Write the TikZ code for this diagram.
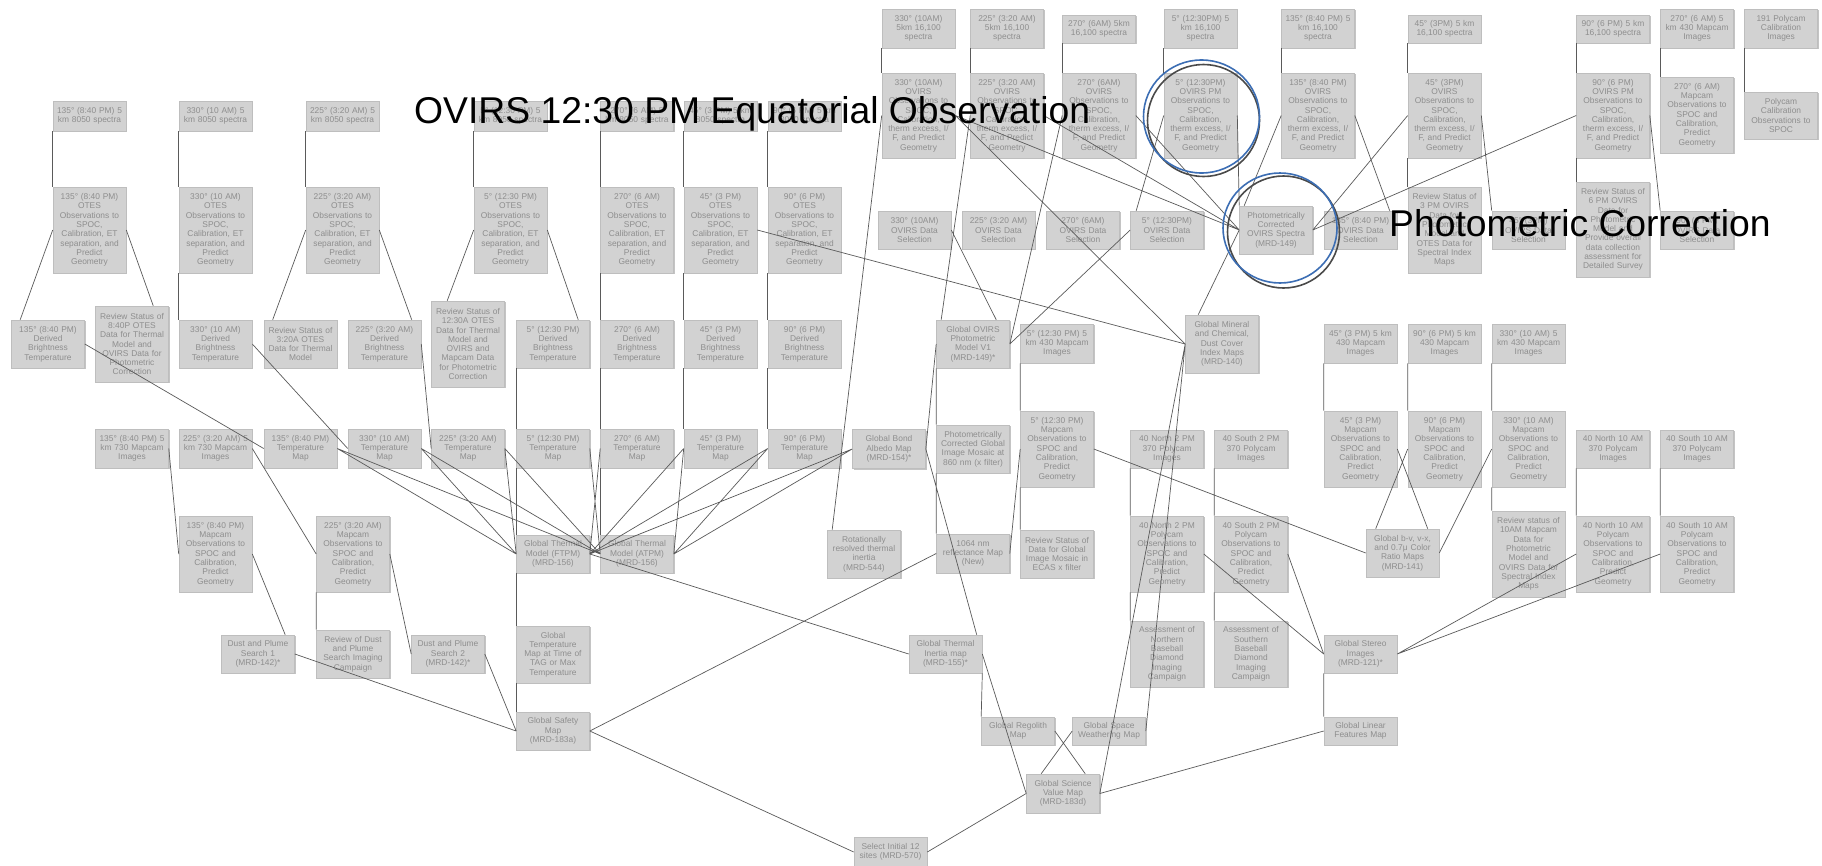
\documentclass[tikz,border=0pt]{standalone}
\usepackage{fontspec}
\usetikzlibrary{shadows}
\newfontfamily\boxfam{Liberation Sans}
\newfontfamily\headfam{Liberation Sans}
\definecolor{boxfill}{HTML}{D2D2D2}
\definecolor{boxedge}{HTML}{BEBEBE}
\definecolor{boxtext}{HTML}{8E8E8E}
\definecolor{shadowc}{HTML}{C4C4C4}
\definecolor{linkc}{HTML}{5A5A5A}
\definecolor{ringblue}{HTML}{3C6EB4}
\definecolor{ringgray}{HTML}{4A4A4A}
\tikzset{
  box/.style={draw=boxedge, fill=boxfill, text=boxtext, line width=0.6pt,
    font=\boxfam\fontsize{8.4}{9.3}\selectfont, align=center,
    text width=70pt, inner xsep=1.5pt, inner ysep=1pt,
    general shadow={fill=shadowc, shadow xshift=1.2pt, shadow yshift=-1.4pt}},
  ht/.style={minimum height=#1},
  link/.style={draw=linkc, line width=0.7pt},
  headline/.style={font=\headfam\fontsize{37.3}{40}\selectfont, text=black, inner sep=0pt, anchor=base west},
  ring/.style={line width=1.6pt}
}
\begin{document}
\begin{tikzpicture}[x=1pt,y=-1pt]
\fill[white] (0,0) rectangle (1822,865);
\useasboundingbox (0,0) rectangle (1822,865);

% ---------- OTES spectra row ----------
\node[box,ht=30pt] (s135) at (89.5,116) {135° (8:40 PM) 5\\km 8050 spectra};
\node[box,ht=30pt] (s330) at (215.5,116) {330° (10 AM) 5\\km 8050 spectra};
\node[box,ht=30pt] (s225) at (342.5,116) {225° (3:20 AM) 5\\km 8050 spectra};
\node[box,ht=30pt] (s5) at (510.5,116) {5° (12:30 PM) 5\\km 8050 spectra};
\node[box,ht=30pt] (s270) at (637,116) {270° (6 AM) 5\\km 8050 spectra};
\node[box,ht=30pt] (s45) at (720.5,116) {45° (3 PM) 5 km\\8050 spectra};
\node[box,ht=30pt] (s90) at (804.5,116) {90° (6 PM) 5 km\\8050 spectra};

% ---------- OTES observation row ----------
\node[box,ht=86pt] (o135) at (89.5,230) {135° (8:40 PM)\\OTES\\Observations to\\SPOC,\\Calibration, ET\\separation, and\\Predict\\Geometry};
\node[box,ht=86pt] (o330) at (215.5,230) {330° (10 AM)\\OTES\\Observations to\\SPOC,\\Calibration, ET\\separation, and\\Predict\\Geometry};
\node[box,ht=86pt] (o225) at (342.5,230) {225° (3:20 AM)\\OTES\\Observations to\\SPOC,\\Calibration, ET\\separation, and\\Predict\\Geometry};
\node[box,ht=86pt] (o5) at (510.5,230) {5° (12:30 PM)\\OTES\\Observations to\\SPOC,\\Calibration, ET\\separation, and\\Predict\\Geometry};
\node[box,ht=86pt] (o270) at (637,230) {270° (6 AM)\\OTES\\Observations to\\SPOC,\\Calibration, ET\\separation, and\\Predict\\Geometry};
\node[box,ht=86pt] (o45) at (720.5,230) {45° (3 PM)\\OTES\\Observations to\\SPOC,\\Calibration, ET\\separation, and\\Predict\\Geometry};
\node[box,ht=86pt] (o90) at (804.5,230) {90° (6 PM)\\OTES\\Observations to\\SPOC,\\Calibration, ET\\separation, and\\Predict\\Geometry};

% ---------- brightness temperature and review row ----------
\node[box,ht=48pt] (d135) at (48,344) {135° (8:40 PM)\\Derived\\Brightness\\Temperature};
\node[box,ht=76pt] (r840) at (132,344) {Review Status of\\8:40P OTES\\Data for Thermal\\Model and\\OVIRS Data for\\Photometric\\Correction};
\node[box,ht=48pt] (d330) at (215.5,344) {330° (10 AM)\\Derived\\Brightness\\Temperature};
\node[box,ht=48pt] (r320) at (300.5,344) {Review Status of\\3:20A OTES\\Data for Thermal\\Model};
\node[box,ht=48pt] (d225) at (384.5,344) {225° (3:20 AM)\\Derived\\Brightness\\Temperature};
\node[box,ht=86pt] (r1230) at (468,344) {Review Status of\\12:30A OTES\\Data for Thermal\\Model and\\OVIRS and\\Mapcam Data\\for Photometric\\Correction};
\node[box,ht=48pt] (d5) at (553,344) {5° (12:30 PM)\\Derived\\Brightness\\Temperature};
\node[box,ht=48pt] (d270) at (637,344) {270° (6 AM)\\Derived\\Brightness\\Temperature};
\node[box,ht=48pt] (d45) at (720.5,344) {45° (3 PM)\\Derived\\Brightness\\Temperature};
\node[box,ht=48pt] (d90) at (804.5,344) {90° (6 PM)\\Derived\\Brightness\\Temperature};

% ---------- temperature map row ----------
\node[box,ht=39pt] (m135i) at (132,448.5) {135° (8:40 PM) 5\\km 730 Mapcam\\Images};
\node[box,ht=39pt] (m225i) at (215.5,448.5) {225° (3:20 AM) 5\\km 730 Mapcam\\Images};
\node[box,ht=39pt] (t135) at (300.5,448.5) {135° (8:40 PM)\\Temperature\\Map};
\node[box,ht=39pt] (t330) at (384.5,448.5) {330° (10 AM)\\Temperature\\Map};
\node[box,ht=39pt] (t225) at (468,448.5) {225° (3:20 AM)\\Temperature\\Map};
\node[box,ht=39pt] (t5) at (553,448.5) {5° (12:30 PM)\\Temperature\\Map};
\node[box,ht=39pt] (t270) at (637,448.5) {270° (6 AM)\\Temperature\\Map};
\node[box,ht=39pt] (t45) at (720.5,448.5) {45° (3 PM)\\Temperature\\Map};
\node[box,ht=39pt] (t90) at (804.5,448.5) {90° (6 PM)\\Temperature\\Map};
\node[box,ht=39pt] (bond) at (889,449) {Global Bond\\Albedo Map\\(MRD-154)*};

% ---------- lower left ----------
\node[box,ht=76pt] (mo135) at (215.5,554) {135° (8:40 PM)\\Mapcam\\Observations to\\SPOC and\\Calibration,\\Predict\\Geometry};
\node[box,ht=76pt] (mo225) at (353,554) {225° (3:20 AM)\\Mapcam\\Observations to\\SPOC and\\Calibration,\\Predict\\Geometry};
\node[box,ht=38pt] (ftpm) at (553,554) {Global Thermal\\Model (FTPM)\\(MRD-156)};
\node[box,ht=38pt] (atpm) at (637,554) {Global Thermal\\Model (ATPM)\\(MRD-156)};
\node[box,ht=48pt] (rot) at (864,554) {Rotationally\\resolved thermal\\inertia\\(MRD-544)};
\node[box,ht=38pt] (dp1) at (258,654) {Dust and Plume\\Search 1\\(MRD-142)*};
\node[box,ht=48pt] (rdp) at (353,654) {Review of Dust\\and Plume\\Search Imaging\\Campaign};
\node[box,ht=38pt] (dp2) at (448,654) {Dust and Plume\\Search 2\\(MRD-142)*};
\node[box,ht=57pt] (tag) at (553,654.5) {Global\\Temperature\\Map at Time of\\TAG or Max\\Temperature};
\node[box,ht=38pt] (safety) at (553,731) {Global Safety\\Map\\(MRD-183a)};
\node[box,ht=29pt] (sel) at (890.5,852) {Select Initial 12\\sites (MRD-570)};

% ---------- OVIRS spectra row ----------
\node[box,ht=39pt] (v330s) at (918.5,28.5) {330° (10AM)\\5km 16,100\\spectra};
\node[box,ht=39pt] (v225s) at (1007,28.5) {225° (3:20 AM)\\5km 16,100\\spectra};
\node[box,ht=28pt] (v270s) at (1099,29) {270° (6AM) 5km\\16,100 spectra};
\node[box,ht=39pt] (v5s) at (1200.5,28.5) {5° (12:30PM) 5\\km 16,100\\spectra};
\node[box,ht=39pt] (v135s) at (1318,28.5) {135° (8:40 PM) 5\\km 16,100\\spectra};
\node[box,ht=28pt] (v45s) at (1444.5,29) {45° (3PM) 5 km\\16,100 spectra};
\node[box,ht=28pt] (v90s) at (1613,29) {90° (6 PM) 5 km\\16,100 spectra};
\node[box,ht=39pt] (m270i) at (1697,28.5) {270° (6 AM) 5\\km 430 Mapcam\\Images};
\node[box,ht=39pt] (pcal) at (1781,28.5) {191 Polycam\\Calibration\\Images};

% ---------- OVIRS observation row ----------
\node[box,ht=85pt] (v330o) at (918.5,115.5) {330° (10AM)\\OVIRS\\Observations to\\SPOC,\\Calibration,\\therm excess, I/\\F, and Predict\\Geometry};
\node[box,ht=85pt] (v225o) at (1007,115.5) {225° (3:20 AM)\\OVIRS\\Observations to\\SPOC,\\Calibration,\\therm excess, I/\\F, and Predict\\Geometry};
\node[box,ht=85pt] (v270o) at (1099,115.5) {270° (6AM)\\OVIRS\\Observations to\\SPOC,\\Calibration,\\therm excess, I/\\F, and Predict\\Geometry};
\node[box,ht=85pt] (v5o) at (1200.5,115.5) {5° (12:30PM)\\OVIRS PM\\Observations to\\SPOC,\\Calibration,\\therm excess, I/\\F, and Predict\\Geometry};
\node[box,ht=85pt] (v135o) at (1318,115.5) {135° (8:40 PM)\\OVIRS\\Observations to\\SPOC,\\Calibration,\\therm excess, I/\\F, and Predict\\Geometry};
\node[box,ht=85pt] (v45o) at (1444.5,115.5) {45° (3PM)\\OVIRS\\Observations to\\SPOC,\\Calibration,\\therm excess, I/\\F, and Predict\\Geometry};
\node[box,ht=85pt] (v90o) at (1613,115.5) {90° (6 PM)\\OVIRS PM\\Observations to\\SPOC,\\Calibration,\\therm excess, I/\\F, and Predict\\Geometry};
\node[box,ht=76pt] (m270o) at (1697,115) {270° (6 AM)\\Mapcam\\Observations to\\SPOC and\\Calibration,\\Predict\\Geometry};
\node[box,ht=47pt] (pcalo) at (1781,115.5) {Polycam\\Calibration\\Observations to\\SPOC};

% ---------- OVIRS data selection row ----------
\node[box,ht=38pt] (v330d) at (914.5,230) {330° (10AM)\\OVIRS Data\\Selection};
\node[box,ht=38pt] (v225d) at (998.5,230) {225° (3:20 AM)\\OVIRS Data\\Selection};
\node[box,ht=38pt] (v270d) at (1083,230) {270° (6AM)\\OVIRS Data\\Selection};
\node[box,ht=38pt] (v5d) at (1167,230) {5° (12:30PM)\\OVIRS Data\\Selection};
\node[box,ht=48pt] (pco) at (1276,230) {Photometrically\\Corrected\\OVIRS Spectra\\(MRD-149)};
\node[box,ht=38pt] (v135d) at (1360.5,230) {135° (8:40 PM)\\OVIRS Data\\Selection};
\node[box,ht=86pt] (r3pm) at (1444.5,230) {Review Status of\\3 PM OVIRS\\Data for\\Photometric\\Model and\\OTES Data for\\Spectral Index\\Maps};
\node[box,ht=38pt] (v45d) at (1528.5,230) {45° (3PM)\\OVIRS Data\\Selection};
\node[box,ht=95pt] (r6pm) at (1613,229.5) {Review Status of\\6 PM OVIRS\\Data for\\Photometric\\Model and\\Provide overall\\data collection\\assessment for\\Detailed Survey};
\node[box,ht=38pt] (v90d) at (1697,230) {90° (6 PM)\\OVIRS Data\\Selection};

% ---------- middle block ----------
\node[box,ht=48pt] (gov) at (973,344) {Global OVIRS\\Photometric\\Model V1\\(MRD-149)*};
\node[box,ht=39pt] (mi5) at (1057,343.5) {5° (12:30 PM) 5\\km 430 Mapcam\\Images};
\node[box,ht=58pt] (gmin) at (1222,344) {Global Mineral\\and Chemical,\\Dust Cover\\Index Maps\\(MRD-140)};
\node[box,ht=48pt] (pcm) at (973,449) {Photometrically\\Corrected Global\\Image Mosaic at\\860 nm (x filter)};
\node[box,ht=76pt] (mo5) at (1057,449) {5° (12:30 PM)\\Mapcam\\Observations to\\SPOC and\\Calibration,\\Predict\\Geometry};
\node[box,ht=38pt] (n2i) at (1167,449) {40 North 2 PM\\370 Polycam\\Images};
\node[box,ht=38pt] (s2i) at (1251,449) {40 South 2 PM\\370 Polycam\\Images};
\node[box,ht=39pt] (r1064) at (973,553.5) {1064 nm\\reflectance Map\\(New)};
\node[box,ht=48pt] (recas) at (1057,554) {Review Status of\\Data for Global\\Image Mosaic in\\ECAS x filter};
\node[box,ht=76pt] (n2o) at (1167,554) {40 North 2 PM\\Polycam\\Observations to\\SPOC and\\Calibration,\\Predict\\Geometry};
\node[box,ht=76pt] (s2o) at (1251,554) {40 South 2 PM\\Polycam\\Observations to\\SPOC and\\Calibration,\\Predict\\Geometry};
\node[box,ht=38pt] (gti) at (945.5,654) {Global Thermal\\Inertia map\\(MRD-155)*};
\node[box,ht=66pt] (an) at (1167,654) {Assessment of\\Northern\\Baseball\\Diamond\\Imaging\\Campaign};
\node[box,ht=66pt] (as) at (1251,654) {Assessment of\\Southern\\Baseball\\Diamond\\Imaging\\Campaign};
\node[box,ht=28pt] (greg) at (1018,731) {Global Regolith\\Map};
\node[box,ht=28pt] (gsw) at (1109,731) {Global Space\\Weathering Map};
\node[box,ht=39pt] (gsv) at (1063,793.5) {Global Science\\Value Map\\(MRD-183d)};

% ---------- right block ----------
\node[box,ht=39pt] (mi45) at (1360.5,343.5) {45° (3 PM) 5 km\\430 Mapcam\\Images};
\node[box,ht=39pt] (mi90) at (1444.5,343.5) {90° (6 PM) 5 km\\430 Mapcam\\Images};
\node[box,ht=39pt] (mi330) at (1528.5,343.5) {330° (10 AM) 5\\km 430 Mapcam\\Images};
\node[box,ht=76pt] (mo45) at (1360.5,449) {45° (3 PM)\\Mapcam\\Observations to\\SPOC and\\Calibration,\\Predict\\Geometry};
\node[box,ht=76pt] (mo90) at (1444.5,449) {90° (6 PM)\\Mapcam\\Observations to\\SPOC and\\Calibration,\\Predict\\Geometry};
\node[box,ht=76pt] (mo330) at (1528.5,449) {330° (10 AM)\\Mapcam\\Observations to\\SPOC and\\Calibration,\\Predict\\Geometry};
\node[box,ht=38pt] (n10i) at (1613,449) {40 North 10 AM\\370 Polycam\\Images};
\node[box,ht=38pt] (s10i) at (1697,449) {40 South 10 AM\\370 Polycam\\Images};
\node[box,ht=48pt] (gbv) at (1402.5,553) {Global b-v, v-x,\\and 0.7μ Color\\Ratio Maps\\(MRD-141)};
\node[box,ht=86pt] (r10) at (1528.5,554) {Review status of\\10AM Mapcam\\Data for\\Photometric\\Model and\\OVIRS Data for\\Spectral Index\\Maps};
\node[box,ht=76pt] (n10o) at (1613,554) {40 North 10 AM\\Polycam\\Observations to\\SPOC and\\Calibration,\\Predict\\Geometry};
\node[box,ht=76pt] (s10o) at (1697,554) {40 South 10 AM\\Polycam\\Observations to\\SPOC and\\Calibration,\\Predict\\Geometry};
\node[box,ht=38pt] (gst) at (1360.5,654) {Global Stereo\\Images\\(MRD-121)*};
\node[box,ht=28pt] (glf) at (1360.5,731) {Global Linear\\Features Map};

% ---------- connectors: OTES chain ----------
\draw[link] (s135.south west) -- (o135.north west)
  (s330.south west) -- (o330.north west) (o330.south west) -- (d330.north west)
  (s225.south west) -- (o225.north west)
  (s5.south west) -- (o5.north west)
  (s270.south west) -- (o270.north west) (o270.south west) -- (d270.north west)
  (d270.south west) -- (t270.north west) (t270.south west) -- (atpm.north west)
  (s45.south west) -- (o45.north west) (o45.south west) -- (d45.north west) (d45.south west) -- (t45.north west)
  (s90.south west) -- (o90.north west) (o90.south west) -- (d90.north west) (d90.south west) -- (t90.north west)
  (d5.south west) -- (t5.north west) (t5.south west) -- (ftpm.north west)
  (ftpm.south west) -- (tag.north west) (tag.south west) -- (safety.north west);
\draw[link] (o135.west) -- ([xshift=9pt]d135.north west)
  (o135.east) -- ([xshift=58pt]r840.north west)
  (o225.west) -- ([xshift=9pt]r320.north west)
  (o225.east) -- ([xshift=64pt]d225.north west)
  (o5.west) -- ([xshift=16pt]r1230.north west)
  (o5.east) -- ([xshift=62pt]d5.north west)
  (d135.east) -- (t135.west)
  (d330.east) -- (t330.west)
  (d225.east) -- (t225.west);
% temperature maps into the thermal models
\draw[link] (t135.east) -- (ftpm.west) (t135.east) -- (atpm.west)
  (t330.east) -- (ftpm.west) (t330.east) -- (atpm.west)
  (t225.east) -- (ftpm.west) (t225.east) -- (atpm.west)
  (t5.east) -- (atpm.west)
  (t270.west) -- (ftpm.east)
  (t45.west) -- (ftpm.east) (t45.west) -- (atpm.east)
  (t90.west) -- (ftpm.east) (t90.west) -- (atpm.east)
  (bond.west) -- (ftpm.east) (bond.west) -- (atpm.east);
% mapcam, dust and safety
\draw[link] (m135i.east) -- (mo135.west)
  (m225i.east) -- (mo225.west)
  (mo135.east) -- ([xshift=64pt]dp1.north west)
  (mo225.south west) -- (rdp.north west)
  (mo225.east) -- (dp2.west)
  (dp1.east) -- (safety.west)
  (dp2.east) -- (safety.west)
  (ftpm.east) -- (gti.west)
  (safety.east) -- (r1064.west)
  (safety.east) -- (sel.west)
  (sel.east) -- (gsv.west);
% science value map inputs
\draw[link] (gti.south east) -- (greg.north west)
  (greg.east) -- ([xshift=59pt]gsv.north west)
  (gsw.west) -- ([xshift=15pt]gsv.north west)
  (gsv.east) -- (gmin.west)
  (gsw.east) -- (gmin.west)
  (bond.east) -- ([xshift=68pt]gti.north west)
  (gti.east) -- (gsv.west)
  (gov.west) -- (bond.east)
  (gov.south west) -- (pcm.north west) (pcm.south west) -- (r1064.north west)
  (mi5.south west) -- (mo5.north west) (mo5.south west) -- (recas.north west)
  (r1064.east) -- (mo5.west)
  (o45.east) -- (gmin.west);
% OVIRS chain
\draw[link] (v330s.south west) -- (v330o.north west)
  (v225s.south west) -- (v225o.north west)
  (v270s.south west) -- (v270o.north west)
  (v5s.south west) -- (v5o.north west)
  (v135s.south west) -- (v135o.north west)
  (v45s.south west) -- (v45o.north west) (v45o.south west) -- (r3pm.north west)
  (v90s.south west) -- (v90o.north west) (v90o.south west) -- (r6pm.north west)
  (m270i.south west) -- (m270o.north west)
  (pcal.south west) -- (pcalo.north west);
\draw[link] (v330o.west) -- ([xshift=5pt]rot.north west)
  (v225o.west) -- ([xshift=5pt]gov.north west)
  (v330d.east) -- ([xshift=60pt]gov.north west)
  (v270o.west) -- (gov.east)
  (v5d.west) -- (gov.east)
  (v5o.west) -- ([xshift=6pt]v5d.north west)
  (v330o.east) -- (pco.west)
  (v225o.east) -- (pco.west)
  (v270o.east) -- (pco.west)
  (v330o.east) -- (gmin.west)
  (v5o.east) -- (pco.north west)
  (v135o.west) -- ([xshift=5pt]pco.north west)
  (pco.east) -- (v45o.west)
  (pco.east) -- (v90o.west)
  (pco.west) -- ([xshift=13pt]gmin.north west)
  (v135o.east) -- ([xshift=66pt]v135d.north west)
  (v45o.east) -- (v45d.north west)
  (v90o.east) -- (v90d.north west);
% mapcam and polycam, right block
\draw[link] (mi45.south west) -- (mo45.north west)
  (mi90.south west) -- (mo90.north west)
  (mi330.south west) -- (mo330.north west) (mo330.south west) -- (r10.north west)
  (n10i.south west) -- (n10o.north west)
  (s10i.south west) -- (s10o.north west)
  (n2i.south west) -- (n2o.north west) (n2o.south west) -- (an.north west)
  (s2i.south west) -- (s2o.north west) (s2o.south west) -- (as.north west)
  (mo5.east) -- (gbv.west)
  (mo45.east) -- ([xshift=62pt]gbv.north west)
  (mo90.west) -- ([xshift=10pt]gbv.north west)
  (mo330.west) -- (gbv.east)
  (n2o.east) -- (gst.west)
  (s2o.east) -- (gst.west)
  (gst.east) -- (n10o.west)
  (gst.east) -- (s10o.west)
  (gst.south west) -- (glf.north west)
  (glf.west) -- (gsv.east);

% ---------- highlight rings ----------
\draw[ring, draw=ringgray] (1203.5,120.5) ellipse [x radius=56pt, y radius=56pt];
\draw[ring, draw=ringblue] (1201.5,116.5) ellipse [x radius=58pt, y radius=56.5pt];
\draw[ring, draw=ringgray] (1283.5,232) ellipse [x radius=56pt, y radius=56pt];
\draw[ring, draw=ringblue] (1280,228) ellipse [x radius=57pt, y radius=55pt];

% ---------- headlines ----------
\node[headline] (hobs) at (414,123) {OVIRS 12:30 PM Equatorial Observation};
\node[headline] (hphot) at (1389,236) {Photometric Correction};
\end{tikzpicture}
\end{document}
